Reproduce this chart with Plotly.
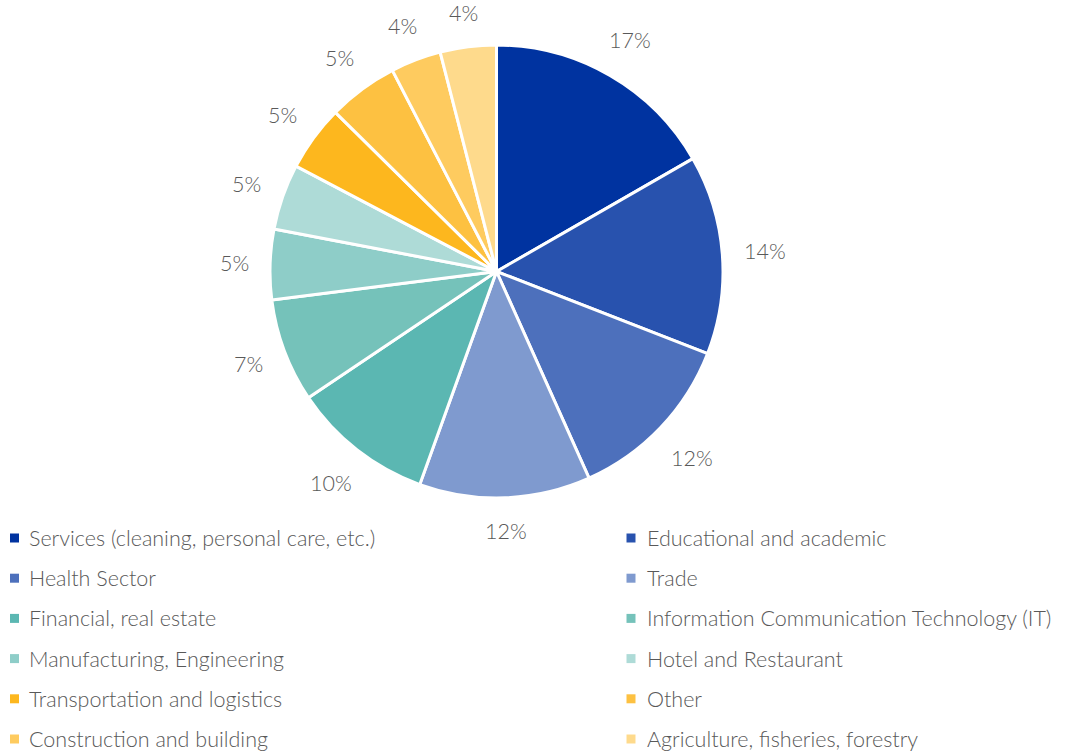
import math
import plotly.graph_objects as go

# Sector shares (percent of respondents)
sectors = [
    "Services (cleaning, personal care, etc.)",
    "Educational and academic",
    "Health Sector",
    "Trade",
    "Financial, real estate",
    "Information Communication Technology (IT)",
    "Manufacturing, Engineering",
    "Hotel and Restaurant",
    "Transportation and logistics",
    "Other",
    "Construction and building",
    "Agriculture, fisheries, forestry",
]
shares = [16.7, 14.2, 12.4, 12.2, 10.1, 7.4, 5.0, 4.7, 4.7, 5.0, 3.6, 4.0]
colors = [
    "#0033A0", "#2852AE", "#4D70BC", "#7F9ACF",
    "#5BB7B2", "#75C2BA", "#8ECDC8", "#AEDBD7",
    "#FDB71E", "#FDC141", "#FECB5F", "#FEDA8C",
]

W, H = 1074, 754
CX, CY, R = 496.5, 271.5, 226.5
FONT = "Lato"
TXT = "#595959"
FS = 21.5

fig = go.Figure(
    go.Pie(
        labels=sectors,
        values=shares,
        sort=False,
        direction="clockwise",
        rotation=0,
        marker=dict(colors=colors, line=dict(color="white", width=3)),
        textinfo="none",
        hoverinfo="label+percent",
        showlegend=False,
        domain=dict(
            x=[(CX - R) / W, (CX + R) / W],
            y=[1 - (CY + R) / H, 1 - (CY - R) / H],
        ),
    )
)

# Outside percentage labels, placed along each slice's mid-angle
annotations = []
total = sum(shares)
cum = 0.0
for v in shares:
    mid = (cum + v / 2) / total * 2 * math.pi
    cum += v
    dx, dy = math.sin(mid), -math.cos(mid)
    label = f"{round(v / total * 100)}%"
    hw = 6.5 * len(label)
    hh = 10
    dist = 249 + hw * abs(dx) + hh * abs(dy)
    px, py = CX + dist * dx, CY + dist * dy
    annotations.append(dict(
        x=px / W, y=1 - py / H, xref="paper", yref="paper",
        text=label, showarrow=False, xanchor="center", yanchor="middle",
        font=dict(family=FONT, size=FS, color=TXT, weight=300),
    ))

# Two-column legend below the pie
shapes = []
row_y = [538 + 40.2 * i for i in range(6)]
col_marker_x = [14.5, 631]
col_text_x = [27, 645]
for i, (name, col) in enumerate(zip(sectors, colors)):
    r, c = divmod(i, 2)
    my = row_y[r]
    mx = col_marker_x[c]
    shapes.append(dict(
        type="rect", xref="paper", yref="paper",
        x0=(mx - 4.5) / W, x1=(mx + 4.5) / W,
        y0=1 - (my + 4.5) / H, y1=1 - (my - 4.5) / H,
        fillcolor=col, line=dict(width=0),
    ))
    annotations.append(dict(
        x=col_text_x[c] / W, y=1 - my / H, xref="paper", yref="paper",
        text=name, showarrow=False, xanchor="left", yanchor="middle",
        font=dict(family=FONT, size=FS, color=TXT, weight=300),
    ))

fig.update_layout(
    width=W, height=H,
    margin=dict(l=0, r=0, t=0, b=0),
    paper_bgcolor="white", plot_bgcolor="white",
    annotations=annotations, shapes=shapes,
    showlegend=False,
)

fig.write_html("out.html")
